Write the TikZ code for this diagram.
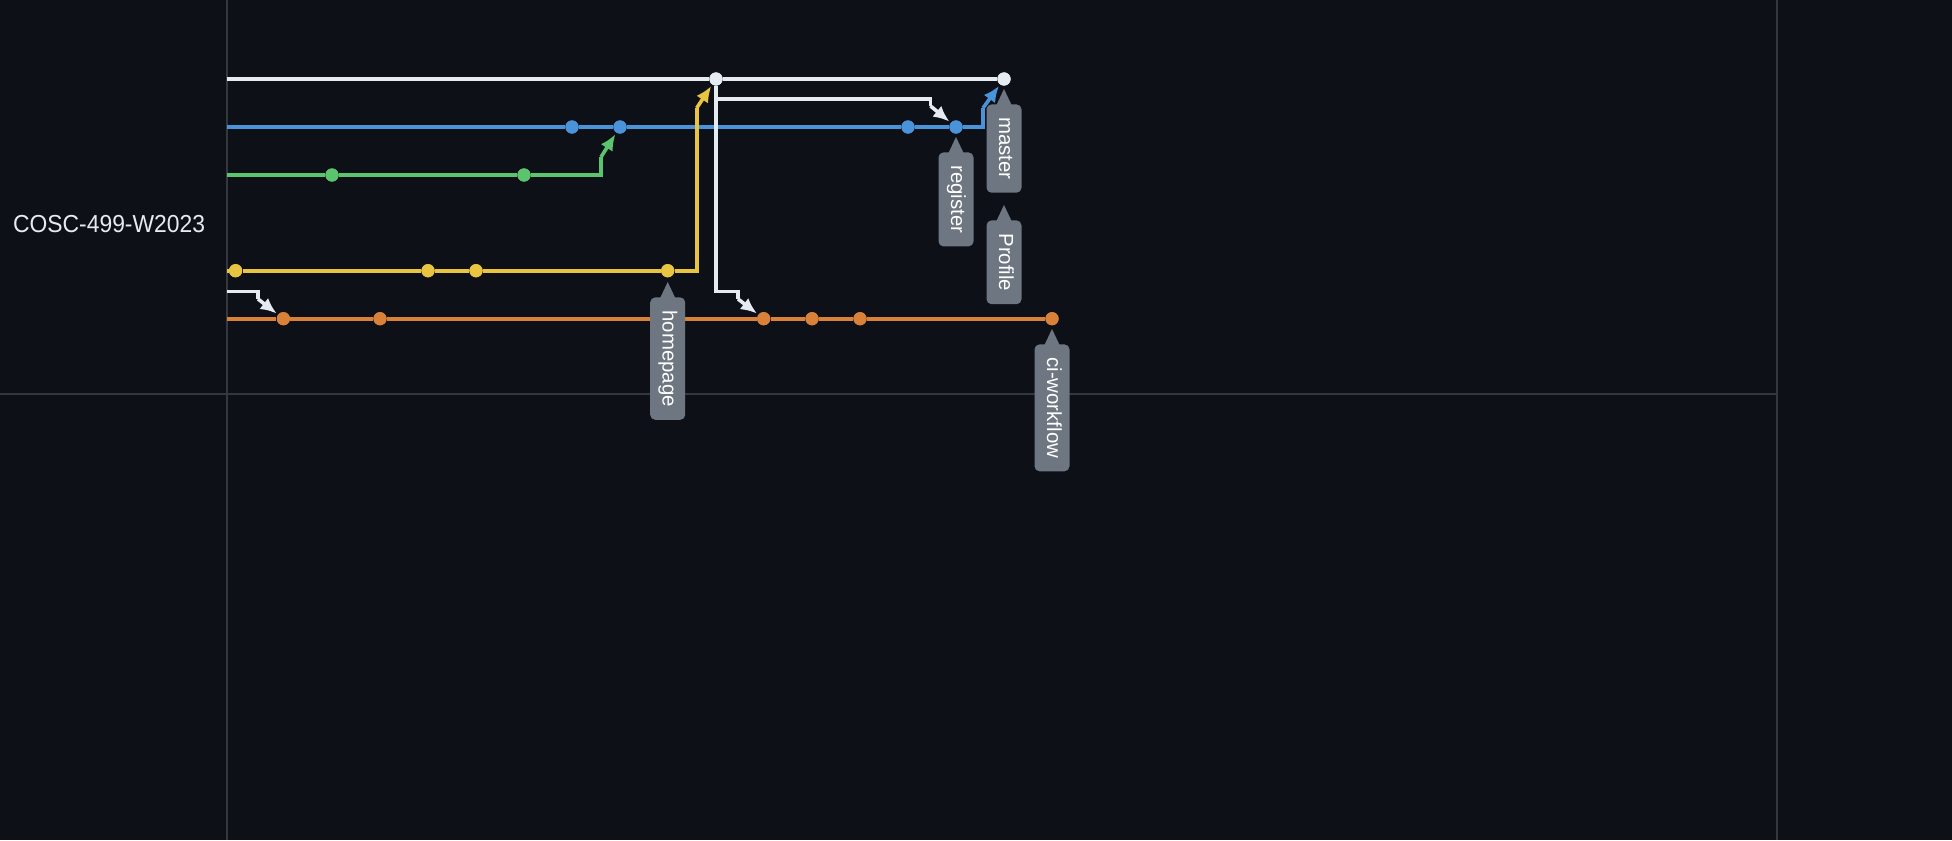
\documentclass[tikz,border=0pt]{standalone}
\usepackage{fontspec}
\setmainfont{Liberation Sans}
\usetikzlibrary{arrows.meta}
\definecolor{bg}{HTML}{0D1117}
\definecolor{gridc}{HTML}{33383F}
\definecolor{cwhite}{HTML}{E6EBF2}
\definecolor{cblue}{HTML}{4A92DA}
\definecolor{cgreen}{HTML}{5AC46E}
\definecolor{cyellow}{HTML}{E8C440}
\definecolor{corange}{HTML}{D98138}
\definecolor{taggray}{HTML}{6E7681}
\begin{document}
\begin{tikzpicture}[x=0.5pt,y=-0.5pt,
  gridline/.style={draw=gridc, line width=1pt},
  branch/.style={draw=#1, line width=1.8pt},
  mergeline/.style={draw=#1, line width=1.8pt, shorten >=0.8pt, -{Latex[length=8pt,width=7pt]}},
  commit/.style={circle, fill=#1, inner sep=0pt, minimum size=6.6pt},
  tag/.style={rotate=-90, anchor=west, fill=taggray, rounded corners=2.5pt, text=white,
    font=\fontsize{10.2}{12}\selectfont, minimum height=17.5pt, inner xsep=6.5pt, inner ysep=0pt,
    text height=0.7em, text depth=0.2em},
  pointer/.style={fill=taggray}
]
\fill[bg] (0,0) rectangle (1952,840);
\useasboundingbox (0,0) rectangle (1952,840);

% grid
\draw[gridline] (227,0) -- (227,840);
\draw[gridline] (1777,0) -- (1777,840);
\draw[gridline] (0,393.7) -- (1777,393.7);

% title
\node[anchor=base west, inner sep=0pt, text=cwhite, font=\fontsize{12.3}{14}\selectfont] (title) at (12.7,232.3) {\scalebox{0.93}[1]{COSC-499-W2023}};

% commits
\node[commit=cwhite] (w1) at (716,79) {};
\node[commit=cwhite] (w2) at (1004,79) {};
\node[commit=cblue] (b1) at (572,127) {};
\node[commit=cblue] (b2) at (620,127) {};
\node[commit=cblue] (b3) at (908,127) {};
\node[commit=cblue] (b4) at (956,127) {};
\node[commit=cgreen] (g1) at (332,175) {};
\node[commit=cgreen] (g2) at (524,175) {};
\node[commit=cyellow] (y1) at (235.6,270.7) {};
\node[commit=cyellow] (y2) at (428,270.7) {};
\node[commit=cyellow] (y3) at (476,270.7) {};
\node[commit=cyellow] (y4) at (667.7,270.7) {};
\node[commit=corange] (o1) at (283.4,318.7) {};
\node[commit=corange] (o2) at (380,318.7) {};
\node[commit=corange] (o3) at (763.7,318.7) {};
\node[commit=corange] (o4) at (812,318.7) {};
\node[commit=corange] (o5) at (860,318.7) {};
\node[commit=corange] (o6) at (1052,318.7) {};

% branch starts and bends
\coordinate (ws) at (227,79);
\coordinate (bs) at (227,127);
\coordinate (gs) at (227,175);
\coordinate (ys) at (227,270.7);
\coordinate (os) at (227,318.7);
\coordinate (bA) at (983,127);
\coordinate (bB) at (983,108);
\coordinate (gA) at (601,175);
\coordinate (gB) at (601,157);
\coordinate (yA) at (696.7,270.7);
\coordinate (yB) at (696.7,108);
\coordinate (lw0) at (227,291.5);
\coordinate (lw1) at (258,291.5);
\coordinate (lw2) at (258,299);
\coordinate (mw1) at (716,291.5);
\coordinate (mw2) at (738,291.5);
\coordinate (mw3) at (738,299);
\coordinate (rw0) at (716,99.3);
\coordinate (rw1) at (930.5,99.3);
\coordinate (rw2) at (930.5,106);

% white mainline
\draw[branch=cwhite] (ws) -- (w1) -- (w2);
% blue
\draw[branch=cblue] (bs) -- (b1) -- (b2) -- (b3) -- (b4) -- (bA) -- (bB);
\draw[mergeline=cblue] (bB) -- (w2);
% green
\draw[branch=cgreen] (gs) -- (g1) -- (g2) -- (gA) -- (gB);
\draw[mergeline=cgreen] (gB) -- (b2);
% yellow
\draw[branch=cyellow] (ys) -- (y1) -- (y2) -- (y3) -- (y4) -- (yA) -- (yB);
\draw[mergeline=cyellow] (yB) -- (w1);
% orange
\draw[branch=corange] (os) -- (o1) -- (o2) -- (o3) -- (o4) -- (o5) -- (o6);
% white branch-offs
\draw[branch=cwhite] (lw0) -- (lw1) -- (lw2);
\draw[mergeline=cwhite] (lw2) -- (o1);
\draw[branch=cwhite] (w1) -- (mw1) -- (mw2) -- (mw3);
\draw[mergeline=cwhite] (mw3) -- (o3);
\draw[branch=cwhite] (rw0) -- (rw1) -- (rw2);
\draw[mergeline=cwhite] (rw2) -- (b4);

% redraw commits on top
\foreach \n/\c in {w1/cwhite,w2/cwhite,b1/cblue,b2/cblue,b3/cblue,b4/cblue,g1/cgreen,g2/cgreen,y1/cyellow,y2/cyellow,y3/cyellow,y4/cyellow,o1/corange,o2/corange,o3/corange,o4/corange,o5/corange,o6/corange}
  \fill[\c] (\n) circle (3.3pt);

% tags
\node[tag] (thome) at (667.7,297) {homepage};
\node[tag] (treg) at (956,152) {register};
\node[tag] (tmaster) at (1004,104) {master};
\node[tag] (tprof) at (1004,220) {Profile};
\node[tag] (tci) at (1052,344) {ci-workflow};
\foreach \t in {thome,treg,tmaster,tprof,tci}
  \fill[pointer] (\t.west) ++(-8.5,3) -- ++(8.5,-18) -- ++(8.5,18) -- cycle;
\end{tikzpicture}
\end{document}
